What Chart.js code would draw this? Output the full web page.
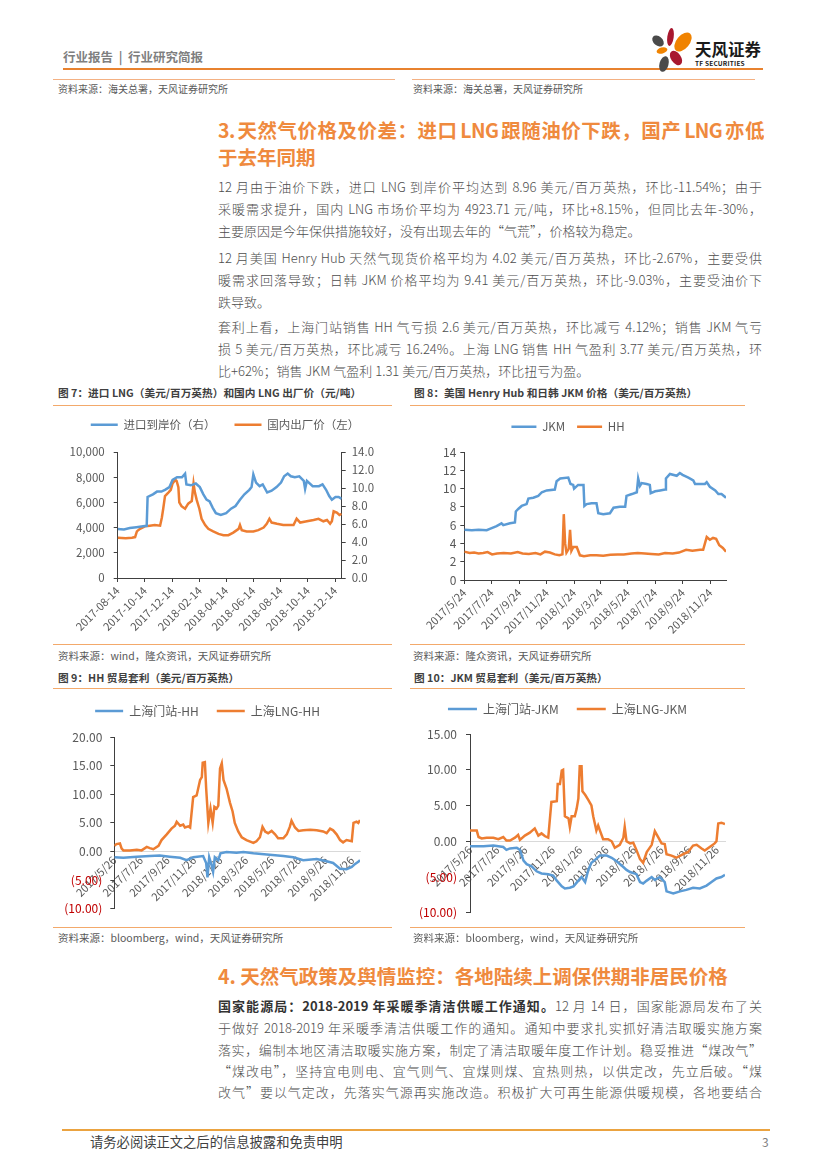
<!DOCTYPE html>
<html lang="zh-CN"><head><meta charset="utf-8">
<script src="https://cdn.jsdelivr.net/npm/chart.js@4.4.1/dist/chart.umd.min.js"></script>
<style>
html,body{margin:0;padding:0;background:#fff;}
body{width:827px;height:1169px;position:relative;overflow:hidden;font-family:"Noto Sans CJK SC","Noto Sans",sans-serif;}
.abs{position:absolute;white-space:nowrap;}
.hl{position:absolute;height:0;}
.ln{position:absolute;left:218px;width:544px;height:22px;line-height:22px;font-size:13px;color:#4d4d4d;font-weight:300;overflow:hidden;}
.j{text-align:justify;text-align-last:justify;}
.ttl{position:absolute;left:218px;height:28px;line-height:28px;font-size:19.5px;color:#EF8A3E;font-weight:bold;overflow:hidden;}
.ctitle{position:absolute;font-size:10.7px;letter-spacing:0px;font-weight:bold;color:#404040;height:16px;line-height:16px;white-space:nowrap;}
.src{position:absolute;font-size:10px;color:#595959;height:14px;line-height:14px;white-space:nowrap;}
.src2{font-size:10.5px;}
.box{position:absolute;}
</style>
</head><body>

<!-- header -->
<div class="abs" style="left:63px;top:48px;font-size:12.5px;font-weight:bold;color:#7f7f7f;line-height:18px;">行业报告&nbsp;&nbsp;|&nbsp;&nbsp;行业研究简报</div>
<div class="hl" style="left:63px;top:68px;width:700px;border-top:2px solid #E8822F;"></div>
<svg class="abs" style="left:645px;top:22px" width="50" height="54" viewBox="645 22 50 54">
<ellipse cx="670.5" cy="37" rx="3.2" ry="9" fill="#A8182F" transform="rotate(8 670.5 37)"/>
<ellipse cx="683" cy="42" rx="6.5" ry="11" fill="#F08300" transform="rotate(40 683 42)"/>
<ellipse cx="658" cy="41" rx="4.5" ry="6.5" fill="#4A4A4A" transform="rotate(-50 658 41)"/>
<ellipse cx="662" cy="50.5" rx="5.5" ry="3" fill="#F08300" transform="rotate(-15 662 50.5)"/>
<ellipse cx="676" cy="58" rx="5" ry="8" fill="#A8182F" transform="rotate(-35 676 58)"/>
<ellipse cx="664" cy="64" rx="4.5" ry="8" fill="#4A4A4A" transform="rotate(15 664 64)"/>
</svg>
<div class="abs" style="left:695px;top:38px;font-size:16.5px;font-weight:bold;color:#1a1a1a;line-height:22px;">天风证券</div>
<div class="abs" style="left:695px;top:59px;font-size:6.5px;font-weight:bold;color:#1a1a1a;line-height:8px;letter-spacing:0.2px;">TF SECURITIES</div>

<div class="hl" style="left:53px;top:79px;width:342px;border-top:1px solid #F4B183;"></div>
<div class="hl" style="left:412px;top:79px;width:343px;border-top:1px solid #F4B183;"></div>
<div class="src" style="left:58px;top:82px;">资料来源：海关总署，天风证券研究所</div>
<div class="src" style="left:413px;top:82px;">资料来源：海关总署，天风证券研究所</div>

<!-- section 3 -->
<div class="ttl j" style="top:116px;width:546px;letter-spacing:-0.6px;word-spacing:-2px;">3. 天然气价格及价差：进口 LNG 跟随油价下跌，国产 LNG 亦低</div>
<div class="ttl" style="top:143px;width:544px;">于去年同期</div>

<div class="ln j" style="top:176px;">12 月由于油价下跌，进口 LNG 到岸价平均达到 8.96 美元/百万英热，环比-11.54%；由于</div>
<div class="ln j" style="top:198px;">采暖需求提升，国内 LNG 市场价平均为 4923.71 元/吨，环比+8.15%，但同比去年-30%，</div>
<div class="ln" style="top:220px;">主要原因是今年保供措施较好，没有出现去年的“气荒”，价格较为稳定。</div>

<div class="ln j" style="top:247px;">12 月美国 Henry Hub 天然气现货价格平均为 4.02 美元/百万英热，环比-2.67%，主要受供</div>
<div class="ln j" style="top:269px;">暖需求回落导致；日韩 JKM 价格平均为 9.41 美元/百万英热，环比-9.03%，主要受油价下</div>
<div class="ln" style="top:291px;">跌导致。</div>

<div class="ln j" style="top:316px;">套利上看，上海门站销售 HH 气亏损 2.6 美元/百万英热，环比减亏 4.12%；销售 JKM 气亏</div>
<div class="ln j" style="top:338px;">损 5 美元/百万英热，环比减亏 16.24%。上海 LNG 销售 HH 气盈利 3.77 美元/百万英热，环</div>
<div class="ln" style="top:360px;">比+62%；销售 JKM 气盈利 1.31 美元/百万英热，环比扭亏为盈。</div>

<!-- chart 7 -->
<div class="ctitle" style="left:58px;top:385px;">图 7：进口 LNG（美元/百万英热）和国内 LNG 出厂价（元/吨）</div>
<div class="hl" style="left:53px;top:405px;width:339px;border-top:1px solid #F3A96B;"></div>
<div class="box" style="left:55px;top:400px;width:340px;height:242px;"><canvas id="c7"></canvas></div>
<div class="hl" style="left:53px;top:644px;width:339px;border-top:1px solid #F3A96B;"></div>
<div class="src src2" style="left:58px;top:649px;">资料来源：wind，隆众资讯，天风证券研究所</div>

<!-- chart 8 -->
<div class="ctitle" style="left:414px;top:385px;">图 8：美国 Henry Hub 和日韩 JKM 价格（美元/百万英热）</div>
<div class="hl" style="left:410px;top:405px;width:335px;border-top:1px solid #F3A96B;"></div>
<div class="box" style="left:410px;top:409px;width:340px;height:233px;"><canvas id="c8"></canvas></div>
<div class="hl" style="left:410px;top:644px;width:335px;border-top:1px solid #F3A96B;"></div>
<div class="src src2" style="left:413px;top:649px;">资料来源：隆众资讯，天风证券研究所</div>

<!-- chart 9 -->
<div class="ctitle" style="left:58px;top:670px;">图 9：HH 贸易套利（美元/百万英热）</div>
<div class="hl" style="left:53px;top:688px;width:339px;border-top:1px solid #F3A96B;"></div>
<div class="box" style="left:55px;top:687px;width:340px;height:237px;"><canvas id="c9"></canvas></div>
<div class="hl" style="left:53px;top:927px;width:339px;border-top:1px solid #F3A96B;"></div>
<div class="src src2" style="left:58px;top:931px;">资料来源：bloomberg，wind，天风证券研究所</div>

<!-- chart 10 -->
<div class="ctitle" style="left:414px;top:670px;">图 10：JKM 贸易套利（美元/百万英热）</div>
<div class="hl" style="left:410px;top:688px;width:335px;border-top:1px solid #F3A96B;"></div>
<div class="box" style="left:410px;top:685px;width:340px;height:244px;"><canvas id="c10"></canvas></div>
<div class="hl" style="left:410px;top:927px;width:335px;border-top:1px solid #F3A96B;"></div>
<div class="src src2" style="left:413px;top:931px;">资料来源：bloomberg，wind，天风证券研究所</div>

<!-- section 4 -->
<div class="ttl" style="top:962px;width:560px;">4. 天然气政策及舆情监控：各地陆续上调保供期非居民价格</div>
<div class="ln j" style="top:995px;"><b style="font-weight:bold;color:#333;">国家能源局：2018-2019 年采暖季清洁供暖工作通知。</b>12 月 14 日，国家能源局发布了关</div>
<div class="ln j" style="top:1017px;">于做好 2018-2019 年采暖季清洁供暖工作的通知。通知中要求扎实抓好清洁取暖实施方案</div>
<div class="ln j" style="top:1039px;">落实，编制本地区清洁取暖实施方案，制定了清洁取暖年度工作计划。稳妥推进“煤改气”</div>
<div class="ln j" style="top:1060px;">“煤改电”，坚持宜电则电、宜气则气、宜煤则煤、宜热则热，以供定改，先立后破。“煤</div>
<div class="ln j" style="top:1081px;">改气”要以气定改，先落实气源再实施改造。积极扩大可再生能源供暖规模，各地要结合</div>

<!-- footer -->
<div class="hl" style="left:62px;top:1129px;width:708px;border-top:2px solid #EBA340;"></div>
<div class="abs" style="left:90px;top:1134px;font-size:13.3px;color:#404040;line-height:16px;">请务必阅读正文之后的信息披露和免责申明</div>
<div class="abs" style="left:762px;top:1134px;font-size:12px;color:#7f7f7f;line-height:16px;">3</div>

<script>
// ---------- data ----------
// Figure 7
const c7TickDates = ['2017-08-14','2017-10-14','2017-12-14','2018-02-14','2018-04-14','2018-06-14','2018-08-14','2018-10-14','2018-12-14'];
const c7Range = ['2017-08-14','2018-12-29'];
const c7ImportDates = ['2017-08-14','2017-08-28','2017-09-10','2017-09-25','2017-10-10','2017-10-18','2017-10-20','2017-11-01','2017-11-10','2017-11-20','2017-11-28','2017-12-08','2017-12-15','2017-12-25','2018-01-05','2018-01-12','2018-01-15','2018-01-25','2018-02-05','2018-02-14','2018-02-22','2018-03-01','2018-03-08','2018-03-15','2018-03-22','2018-04-02','2018-04-14','2018-04-25','2018-05-05','2018-05-15','2018-05-25','2018-06-05','2018-06-10','2018-06-14','2018-06-20','2018-06-28','2018-07-05','2018-07-15','2018-07-25','2018-08-05','2018-08-15','2018-08-22','2018-08-30','2018-09-06','2018-09-15','2018-09-25','2018-10-05','2018-10-08','2018-10-12','2018-10-25','2018-11-08','2018-11-16','2018-11-24','2018-12-01','2018-12-07','2018-12-15','2018-12-22','2018-12-29'];
const c7ImportPrice = [5.45,5.4,5.55,5.65,5.75,5.8,9.0,9.3,9.6,9.6,9.8,10.1,10.9,11.2,11.2,11.6,10.4,10.3,10.5,10.1,9.3,8.7,8.5,7.8,7.2,7.0,7.2,7.7,8.0,8.7,9.3,9.8,10.1,11.5,10.6,10.2,10.4,9.5,9.7,10.1,10.6,11.3,11.6,11.3,11.2,11.3,10.8,9.9,10.8,10.2,10.2,10.4,9.8,9.1,8.7,9.0,9.0,8.8];
const c7DomesticDates = ['2017-08-14','2017-09-01','2017-09-15','2017-09-22','2017-09-26','2017-10-03','2017-10-14','2017-10-25','2017-11-05','2017-11-17','2017-11-21','2017-11-24','2017-11-28','2017-12-06','2017-12-11','2017-12-15','2017-12-21','2017-12-24','2017-12-28','2017-12-30','2018-01-04','2018-01-12','2018-01-19','2018-01-27','2018-01-31','2018-02-03','2018-02-07','2018-02-13','2018-02-18','2018-02-26','2018-03-05','2018-03-16','2018-03-28','2018-04-08','2018-04-19','2018-04-30','2018-05-12','2018-05-15','2018-05-19','2018-05-30','2018-06-14','2018-06-25','2018-07-07','2018-07-14','2018-07-20','2018-07-25','2018-08-06','2018-08-20','2018-09-12','2018-09-19','2018-09-27','2018-10-12','2018-10-27','2018-11-07','2018-11-18','2018-11-26','2018-12-03','2018-12-07','2018-12-11','2018-12-18','2018-12-24','2018-12-29'];
const c7DomesticPrice = [3200,3150,3200,3250,3700,3900,4100,4150,4200,4150,4800,5500,6500,6800,7000,7500,7800,7700,7200,6000,5700,5500,5900,6100,7500,6800,6200,5500,4700,4200,3900,3700,3500,3400,3400,3600,3900,4200,3800,3700,3700,3800,4000,4300,4700,4400,4300,4200,4200,4700,4400,4500,4600,4700,4500,4600,4300,4500,5300,5200,5000,5100];

// Figure 8
const c8TickDates = ['2017-05-24','2017-07-24','2017-09-24','2017-11-24','2018-01-24','2018-03-24','2018-05-24','2018-07-24','2018-09-24','2018-11-24'];
const c8TickLabels = ['2017/5/24','2017/7/24','2017/9/24','2017/11/24','2018/1/24','2018/3/24','2018/5/24','2018/7/24','2018/9/24','2018/11/24'];
const c8Range = ['2017-05-24','2018-12-29'];
const c8JkmDates = ['2017-05-24','2017-06-10','2017-06-25','2017-07-13','2017-07-20','2017-08-04','2017-08-15','2017-08-19','2017-09-03','2017-09-14','2017-09-16','2017-09-22','2017-09-29','2017-10-10','2017-10-14','2017-10-25','2017-11-05','2017-11-13','2017-11-24','2017-12-12','2017-12-16','2017-12-24','2018-01-11','2018-01-16','2018-01-22','2018-01-24','2018-02-02','2018-02-14','2018-02-16','2018-02-21','2018-03-04','2018-03-15','2018-03-19','2018-03-30','2018-04-14','2018-04-22','2018-05-06','2018-05-18','2018-05-21','2018-06-02','2018-06-13','2018-06-16','2018-06-20','2018-06-24','2018-07-05','2018-07-12','2018-07-14','2018-07-24','2018-08-04','2018-08-15','2018-08-17','2018-08-26','2018-09-10','2018-09-17','2018-09-23','2018-10-06','2018-10-17','2018-10-21','2018-11-01','2018-11-12','2018-11-16','2018-11-23','2018-12-05','2018-12-12','2018-12-19','2018-12-29'];
const c8Jkm = [5.5,5.45,5.5,5.45,5.6,5.9,6.2,6.0,6.2,6.3,7.5,7.8,8.1,8.3,8.9,9.0,9.2,9.6,9.8,9.9,10.8,11.1,11.2,10.5,10.4,10.0,10.4,10.4,8.1,8.3,8.4,8.4,7.3,7.2,7.3,7.9,8.0,8.0,9.2,9.4,9.6,11.1,10.3,10.6,10.5,10.4,9.5,9.7,9.8,9.9,11.1,11.6,11.4,11.7,11.5,11.2,10.9,10.5,10.5,10.5,10.7,10.2,9.8,9.4,9.4,9.0];
const c8HhDates = ['2017-05-24','2017-06-05','2017-06-15','2017-06-25','2017-07-05','2017-07-15','2017-07-25','2017-08-05','2017-08-20','2017-09-05','2017-09-20','2017-10-01','2017-10-15','2017-10-30','2017-11-10','2017-11-20','2017-12-01','2017-12-12','2017-12-22','2017-12-29','2018-01-01','2018-01-04','2018-01-07','2018-01-12','2018-01-15','2018-01-18','2018-01-22','2018-01-30','2018-02-06','2018-02-15','2018-03-01','2018-03-15','2018-03-30','2018-04-15','2018-05-01','2018-05-15','2018-06-01','2018-06-15','2018-07-01','2018-07-15','2018-08-01','2018-08-15','2018-09-01','2018-09-15','2018-10-01','2018-10-15','2018-11-01','2018-11-08','2018-11-12','2018-11-16','2018-11-23','2018-11-30','2018-12-07','2018-12-14','2018-12-22','2018-12-29'];
const c8Hh = [3.1,2.95,3.0,2.9,2.95,3.05,2.8,2.9,2.95,2.9,3.05,2.9,2.85,2.95,2.8,3.1,3.0,2.8,2.7,2.8,7.2,4.0,3.0,3.4,5.5,3.2,3.6,3.6,2.7,2.6,2.7,2.7,2.65,2.75,2.8,2.8,2.9,2.95,2.9,2.85,2.8,2.95,2.9,3.0,3.3,3.2,3.3,3.3,4.0,4.7,4.4,4.6,4.5,3.8,3.5,3.1];

// Figure 9 / 10
const c9TickDates = ['2017-05-26','2017-07-26','2017-09-26','2017-11-26','2018-01-26','2018-03-26','2018-05-26','2018-07-26','2018-09-26','2018-11-26'];
const c9TickLabels = ['2017/5/26','2017/7/26','2017/9/26','2017/11/26','2018/1/26','2018/3/26','2018/5/26','2018/7/26','2018/9/26','2018/11/26'];
const c9Range = ['2017-05-26','2018-12-14'];
const c9LngDates = ['2017-05-26','2017-05-31','2017-06-08','2017-06-12','2017-06-16','2017-07-01','2017-07-17','2017-07-28','2017-08-09','2017-08-16','2017-08-24','2017-09-05','2017-09-12','2017-09-24','2017-10-05','2017-10-13','2017-10-17','2017-10-25','2017-11-01','2017-11-05','2017-11-13','2017-11-17','2017-11-24','2017-12-02','2017-12-10','2017-12-14','2017-12-16','2017-12-21','2017-12-24','2017-12-29','2018-01-03','2018-01-08','2018-01-12','2018-01-17','2018-01-21','2018-01-25','2018-01-29','2018-02-02','2018-02-09','2018-02-17','2018-02-23','2018-02-28','2018-03-08','2018-03-16','2018-03-27','2018-04-12','2018-04-19','2018-04-27','2018-05-03','2018-05-09','2018-05-16','2018-05-24','2018-06-01','2018-06-08','2018-06-20','2018-06-28','2018-07-05','2018-07-09','2018-07-17','2018-07-25','2018-08-05','2018-08-21','2018-09-05','2018-09-20','2018-09-28','2018-10-06','2018-10-13','2018-10-21','2018-10-29','2018-11-05','2018-11-13','2018-11-25','2018-11-29','2018-12-06','2018-12-10','2018-12-14'];
const c9LngHh = [1.0,1.3,1.4,0.5,0.2,0.2,0.3,0.2,0.8,0.6,0.4,1.0,2.0,3.0,4.0,4.5,5.2,4.5,4.7,4.2,4.4,4.2,9.5,9.8,12.5,13.0,15.5,15.6,11.0,5.0,7.5,5.0,7.8,7.5,8.0,14.5,15.4,12.5,11.0,8.5,7.0,5.0,3.5,2.5,2.0,1.5,1.8,2.5,4.3,3.5,3.2,3.6,3.0,2.3,2.3,3.0,4.3,5.4,4.2,3.6,3.7,3.8,3.7,3.5,3.2,4.0,3.7,3.0,2.0,1.6,2.0,1.8,5.0,5.2,5.0,5.5];
const c9GateDates = ['2017-05-26','2017-06-16','2017-07-17','2017-08-16','2017-09-08','2017-10-01','2017-10-25','2017-11-09','2017-11-24','2017-12-17','2017-12-24','2017-12-27','2017-12-31','2018-01-06','2018-01-09','2018-01-13','2018-01-21','2018-01-26','2018-02-09','2018-03-04','2018-03-20','2018-04-12','2018-05-13','2018-06-20','2018-07-13','2018-08-05','2018-09-05','2018-09-28','2018-10-13','2018-10-29','2018-11-13','2018-11-25','2018-12-02','2018-12-10','2018-12-14'];
const c9GateHh = [-1.0,-1.1,-0.9,-0.8,-0.7,-0.9,-1.1,-1.5,-1.0,-0.8,-2.0,-4.5,-1.0,-2.5,-3.5,-1.0,-1.5,-0.3,-0.1,-0.2,-0.1,-0.3,-0.5,-0.8,-1.0,-1.5,-1.3,-1.7,-2.0,-3.0,-3.1,-2.7,-2.2,-1.8,-1.5];

const c10LngDates = ['2017-05-26','2017-06-10','2017-06-14','2017-06-21','2017-07-02','2017-07-17','2017-07-28','2017-08-08','2017-08-15','2017-08-23','2017-09-03','2017-09-10','2017-09-14','2017-09-25','2017-10-06','2017-10-17','2017-10-25','2017-11-01','2017-11-09','2017-11-16','2017-11-23','2017-12-05','2017-12-07','2017-12-12','2017-12-16','2017-12-19','2017-12-23','2017-12-31','2018-01-03','2018-01-07','2018-01-14','2018-01-18','2018-01-22','2018-01-25','2018-01-29','2018-01-31','2018-02-06','2018-02-13','2018-02-20','2018-02-24','2018-03-03','2018-03-07','2018-03-11','2018-03-18','2018-03-29','2018-04-06','2018-04-13','2018-04-24','2018-05-02','2018-05-05','2018-05-09','2018-05-17','2018-05-24','2018-05-31','2018-06-08','2018-06-15','2018-06-23','2018-07-04','2018-07-11','2018-07-19','2018-07-26','2018-08-02','2018-08-06','2018-08-17','2018-08-28','2018-09-12','2018-09-23','2018-10-04','2018-10-12','2018-10-23','2018-10-30','2018-11-10','2018-11-21','2018-11-25','2018-11-29','2018-12-06','2018-12-14'];
const c10LngJkm = [1.5,1.5,0.6,0.4,0.5,0.5,0.3,0.6,0.1,0.1,0.5,0.9,0.2,0.8,1.2,1.8,0.8,1.1,0.7,0.5,5.5,5.6,8.0,8.0,9.9,10.0,3.5,3.2,2.0,3.5,3.5,4.5,6.0,10.5,10.5,7.0,6.5,5.8,5.0,3.5,1.5,2.2,1.5,0.3,0.3,0.0,-0.9,-0.5,0.5,2.0,0.0,-0.3,-0.2,-1.2,-2.5,-3.0,-1.5,-0.5,1.4,0.5,-0.3,-0.4,-1.8,-2.0,-2.3,-1.8,-1.5,-0.6,-0.5,-1.0,-1.3,-0.8,-0.3,0.0,2.5,2.6,2.4];
const c10GateDates = ['2017-05-26','2017-06-25','2017-07-17','2017-08-08','2017-08-15','2017-08-23','2017-09-07','2017-09-14','2017-09-22','2017-09-29','2017-10-10','2017-10-21','2017-11-01','2017-11-16','2017-11-27','2017-12-05','2017-12-16','2017-12-23','2018-01-03','2018-01-11','2018-01-22','2018-01-29','2018-02-06','2018-02-13','2018-02-20','2018-02-28','2018-03-11','2018-03-26','2018-04-06','2018-04-17','2018-05-02','2018-05-09','2018-05-17','2018-05-31','2018-06-08','2018-06-15','2018-06-23','2018-07-04','2018-07-11','2018-07-22','2018-08-02','2018-08-06','2018-08-21','2018-09-05','2018-09-19','2018-10-04','2018-10-19','2018-11-03','2018-11-14','2018-11-25','2018-12-06','2018-12-14'];
const c10GateJkm = [-0.7,-0.7,-0.6,-0.8,-1.2,-1.0,-0.9,-1.2,-2.7,-3.2,-3.5,-4.2,-4.5,-4.6,-4.8,-5.5,-6.3,-6.6,-6.5,-6.3,-5.5,-5.0,-5.7,-4.0,-3.0,-2.6,-2.0,-2.0,-2.3,-2.8,-3.6,-4.0,-4.3,-4.6,-5.7,-5.9,-5.5,-5.0,-5.4,-5.0,-5.7,-7.0,-7.3,-7.0,-6.8,-6.5,-6.6,-6.2,-5.7,-5.2,-5.0,-4.7];

// ---------- helpers ----------
const BLUE = '#5B9BD5', ORANGE = '#ED7D31';
const dayNum = s => Date.parse(s + 'T00:00:00Z') / 86400000;
const pts = (dates, vals) => dates.map((d, i) => ({ x: dayNum(d), y: vals[i] }));

Chart.defaults.font.family = '"Noto Sans CJK SC","Noto Sans",sans-serif';
Chart.defaults.color = '#595959';
Chart.defaults.animation = false;

const fixLegend = h => ({
  id: 'fixLegend',
  beforeLayout(chart) {
    const lg = chart.legend;
    if (lg && !lg._fixedH) {
      const f = lg.fit;
      lg.fit = function () { f.call(this); this.height = h; };
      lg._fixedH = true;
    }
  }
});

function xAxis(range, tickDates, tickLabels, o) {
  return Object.assign({
    type: 'linear',
    min: dayNum(range[0]), max: dayNum(range[1]),
    afterBuildTicks: s => { s.ticks = tickDates.map(d => ({ value: dayNum(d) })); },
    ticks: { autoSkip: false, maxRotation: 45, minRotation: 45, padding: o.pad, font: { size: 11 }, color: '#595959',
      callback: (v, i) => tickLabels[i] },
    grid: o.zeroLine ? { display: false, drawTicks: false } :
      { display: true, drawOnChartArea: false, drawTicks: true, tickLength: 4, color: '#404040' },
    border: { display: true, color: o.zeroLine ? '#D9D9D9' : '#404040', width: 1 },
    afterFit: s => { if (o.height) s.height = o.height; }
  }, o.zeroLine ? { position: { y: 0 } } : { position: 'bottom' });
}

function yAxis(o) {
  return {
    type: 'linear', position: o.position || 'left',
    min: o.min, max: o.max,
    ticks: { stepSize: o.step, padding: o.pad, font: { size: o.size }, callback: o.fmt,
      color: c => (c.tick && c.tick.value < 0) ? '#C00000' : '#595959' },
    grid: { display: true, drawOnChartArea: false, drawTicks: true, tickLength: 4, color: '#404040' },
    border: { display: true, color: '#404040', width: 1 },
    afterFit: s => { s.width = o.width; }
  };
}

function legendOpts(pad, size, lw) {
  return { display: true, position: 'top',
    labels: { usePointStyle: true, pointStyle: 'line', pointStyleWidth: lw, padding: pad,
      font: { size: size }, color: '#595959' } };
}

const lineDs = (label, data, color, axis) => Object.assign({
  label, data, borderColor: color, backgroundColor: color, borderWidth: 2.5,
  pointRadius: 0, tension: 0, fill: false
}, axis ? { yAxisID: axis } : {});

const baseOpts = (pad) => ({
  responsive: true, maintainAspectRatio: false, animation: false,
  layout: { padding: pad },
  interaction: { mode: null },
  plugins: { tooltip: { enabled: false } }
});

const fmt2 = v => v < 0 ? '(' + Math.abs(v).toFixed(2) + ')' : v.toFixed(2);

// ---------- Figure 7 ----------
new Chart(document.getElementById('c7'), {
  type: 'line',
  data: { datasets: [
    lineDs('进口到岸价（右）', pts(c7ImportDates, c7ImportPrice), BLUE, 'y1'),
    lineDs('国内出厂价（左）', pts(c7DomesticDates, c7DomesticPrice), ORANGE, 'y')
  ]},
  options: Object.assign(baseOpts({ left: 0, right: 0, top: 0, bottom: 0 }), {
    scales: {
      x: xAxis(c7Range, c7TickDates, c7TickDates, { pad: 2, height: 64 }),
      y: yAxis({ min: 0, max: 10000, step: 2000, pad: 9, size: 11.5, width: 62.7,
        fmt: v => v.toLocaleString('en-US') }),
      y1: yAxis({ position: 'right', min: 0, max: 14, step: 2, pad: 6, size: 11.5, width: 53.3,
        fmt: v => v.toFixed(1) })
    },
    plugins: { tooltip: { enabled: false }, legend: legendOpts(19, 11.5, 27) }
  }),
  plugins: [fixLegend(52)]
});

// ---------- Figure 8 ----------
new Chart(document.getElementById('c8'), {
  type: 'line',
  data: { datasets: [
    lineDs('JKM', pts(c8JkmDates, c8Jkm), BLUE),
    lineDs('HH', pts(c8HhDates, c8Hh), ORANGE)
  ]},
  options: Object.assign(baseOpts({ left: 0, right: 24, top: 0, bottom: 0 }), {
    scales: {
      x: xAxis(c8Range, c8TickDates, c8TickLabels, { pad: 2, height: 62 }),
      y: yAxis({ min: 0, max: 14, step: 2, pad: 4, size: 12, width: 54.3, fmt: v => String(v) })
    },
    plugins: { tooltip: { enabled: false }, legend: legendOpts(12, 11.5, 25) }
  }),
  plugins: [fixLegend(43)]
});

// ---------- Figure 9 ----------
new Chart(document.getElementById('c9'), {
  type: 'line',
  data: { datasets: [
    lineDs('上海门站-HH', pts(c9GateDates, c9GateHh), BLUE),
    lineDs('上海LNG-HH', pts(c9LngDates, c9LngHh), ORANGE)
  ]},
  options: Object.assign(baseOpts({ left: 0, right: 35, top: 0, bottom: 8 }), {
    scales: {
      x: xAxis(c9Range, c9TickDates, c9TickLabels, { pad: 2, zeroLine: true }),
      y: yAxis({ min: -10, max: 20, step: 5, pad: 8, size: 12, width: 59.3, fmt: fmt2 })
    },
    plugins: { tooltip: { enabled: false }, legend: legendOpts(18, 12, 28) }
  }),
  plugins: [fixLegend(50)]
});

// ---------- Figure 10 ----------
new Chart(document.getElementById('c10'), {
  type: 'line',
  data: { datasets: [
    lineDs('上海门站-JKM', pts(c10GateDates, c10GateJkm), BLUE),
    lineDs('上海LNG-JKM', pts(c10LngDates, c10LngJkm), ORANGE)
  ]},
  options: Object.assign(baseOpts({ left: 0, right: 25, top: 0, bottom: 8 }), {
    scales: {
      x: xAxis(c9Range, c9TickDates, c9TickLabels, { pad: 2, zeroLine: true }),
      y: yAxis({ min: -10, max: 15, step: 5, pad: 9, size: 12, width: 60, fmt: fmt2 })
    },
    plugins: { tooltip: { enabled: false }, legend: legendOpts(18, 12, 29) }
  }),
  plugins: [fixLegend(49)]
});
</script>
</body></html>
